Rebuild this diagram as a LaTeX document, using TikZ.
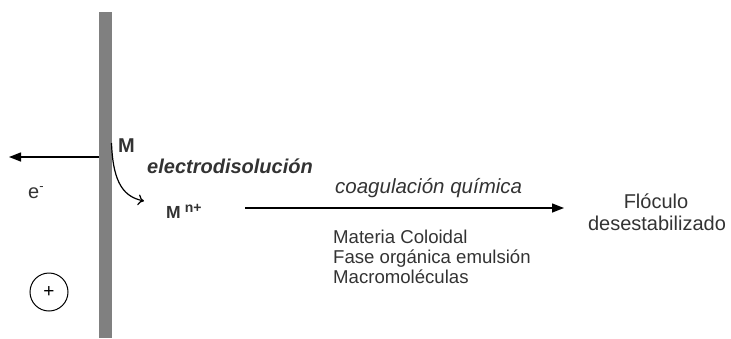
\documentclass[tikz,border=0pt]{standalone}
\usepackage{fontspec}
\setmainfont{Liberation Sans}
\usetikzlibrary{arrows.meta}
\definecolor{txt}{HTML}{333333}
\definecolor{barc}{HTML}{808080}
\begin{document}
\begin{tikzpicture}[x=1pt,y=-1pt,
  lbl/.style={inner sep=0pt,text=txt,font=\fontsize{20}{24}\selectfont},
  lst/.style={inner sep=0pt,text=txt,font=\fontsize{18.6}{21}\selectfont},
  arr/.style={line width=1.4pt,-{Triangle[length=12pt,width=9pt]}},
  curv/.style={line width=1.2pt,-{To[length=6pt,width=11pt]}}]
\useasboundingbox (0,0) rectangle (731,338);
\node[fill=barc,inner sep=0pt,minimum width=13pt,minimum height=326pt,anchor=north west] (bar) at (99,12) {};
\coordinate (eend) at (9,157);
\draw[arr] (bar.west |- eend) -- (eend);
\node[lbl,anchor=base west] (e) at (28,198) {e\raisebox{8pt}{\fontsize{13}{14}\selectfont -}};
\node[draw,circle,line width=1pt,minimum size=38pt,inner sep=0pt,text=black,font=\fontsize{19}{20}\selectfont] (plus) at (49,292) {+};
\node[lbl,anchor=base west,font=\fontsize{20}{24}\selectfont\bfseries] (M) at (118,152) {M};
\node[lbl,anchor=base west,font=\fontsize{20}{24}\selectfont\bfseries\itshape] (ed) at (147,173) {electrodisolución};
\node[lbl,anchor=base west,font=\fontsize{17.5}{20}\selectfont\bfseries] (Mn) at (166,218) {M\hspace{4pt}\raisebox{6pt}{\fontsize{14}{15}\selectfont n+}};
\coordinate (cs) at (111.5,143);
\coordinate (ce) at (144,201);
\draw[curv] (cs) .. controls (113,185) and (125,197) .. (ce);
\coordinate (as) at (245,208);
\coordinate (ae) at (564,208);
\draw[arr] (as) -- (ae);
\node[lbl,anchor=base west,font=\fontsize{20.5}{24}\selectfont\itshape] (cq) at (335,193) {coagulación química};
\node[lst,anchor=base west] (l1) at (333,243) {Materia Coloidal};
\node[lst,anchor=base west] (l2) at (333,263) {Fase orgánica emulsión};
\node[lst,anchor=base west] (l3) at (333,283) {Macromoléculas};
\node[lbl,anchor=base] (f1) at (656,208) {Flóculo};
\node[lbl,anchor=base] (f2) at (657,230) {desestabilizado};
\end{tikzpicture}
\end{document}
